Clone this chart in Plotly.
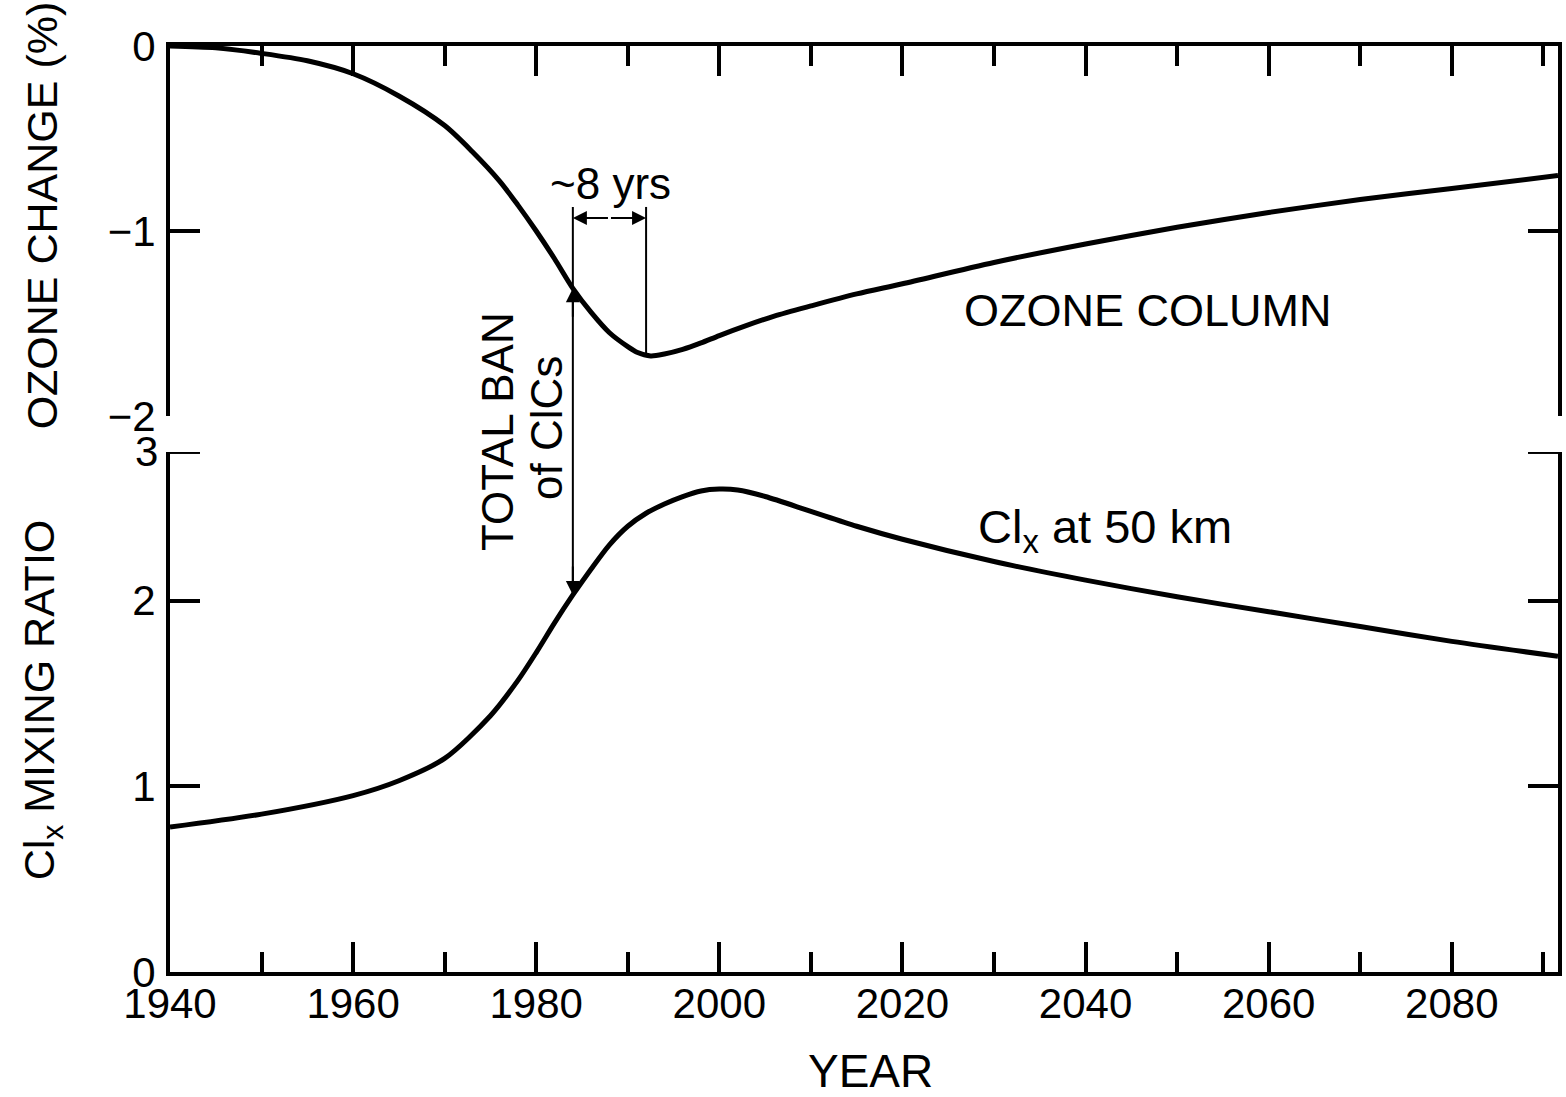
import numpy as np
import plotly.graph_objects as go

# ---- data -------------------------------------------------------------
ozone_years = [1940, 1945, 1950, 1955, 1960, 1965, 1970, 1973, 1976, 1978,
               1980, 1982, 1984, 1986, 1988, 1990, 1991, 1992.5, 1994, 1996,
               1998, 2000, 2003, 2006, 2010, 2015, 2020, 2030, 2040, 2050,
               2060, 2070, 2080, 2091.6]
ozone_change = [0.00, -0.01, -0.04, -0.08, -0.15, -0.27, -0.43, -0.57, -0.73, -0.86,
                -1.00, -1.15, -1.31, -1.44, -1.55, -1.625, -1.655, -1.675, -1.665, -1.64,
                -1.605, -1.565, -1.51, -1.46, -1.405, -1.34, -1.285, -1.17, -1.07, -0.98,
                -0.90, -0.83, -0.77, -0.70]

clx_years = [1940, 1950, 1960, 1965, 1970, 1975, 1978, 1980, 1982, 1984,
             1986, 1988, 1990, 1992, 1994, 1996, 1998, 2000, 2002, 2005,
             2010, 2015, 2020, 2030, 2040, 2050, 2060, 2070, 2080, 2091.6]
clx_ratio = [0.78, 0.85, 0.95, 1.03, 1.15, 1.38, 1.57, 1.72, 1.88, 2.03,
             2.17, 2.30, 2.40, 2.47, 2.52, 2.56, 2.59, 2.60, 2.595, 2.56,
             2.48, 2.40, 2.33, 2.21, 2.11, 2.02, 1.94, 1.86, 1.78, 1.70]

ban_year = 1984          # total ban of ClCs
ozone_min_year = 1992    # ozone minimum, ~8 years later

x_range = [1940, 2091.6]
oz_range = [-2, 0]
clx_range = [0, 2.8]
oz_domain = [0.6004, 1.0]
clx_domain = [0.0, 0.5616]

FONT = "Liberation Sans"
INK = "black"

# plot-area geometry in pixels (used to place free text)
PLOT_L, PLOT_W = 170, 1392
PLOT_B, PLOT_H = 972, 926


def to_paper(v, rng, dom):
    return dom[0] + (v - rng[0]) / (rng[1] - rng[0]) * (dom[1] - dom[0])


def px_x(px):
    return (px - PLOT_L) / PLOT_W


def px_y(py):
    return (PLOT_B - py) / PLOT_H


fig = go.Figure()

fig.add_trace(go.Scatter(x=clx_years, y=clx_ratio, mode="lines",
                         line=dict(color=INK, width=5, shape="spline", smoothing=0.8),
                         xaxis="x", yaxis="y", showlegend=False))
fig.add_trace(go.Scatter(x=ozone_years, y=ozone_change, mode="lines",
                         line=dict(color=INK, width=5, shape="spline", smoothing=0.8),
                         xaxis="x2", yaxis="y2", showlegend=False))

axis_common = dict(showgrid=False, zeroline=False, showline=True, linecolor=INK,
                   linewidth=4, ticks="inside", tickcolor=INK, tickwidth=4)

fig.update_layout(
    width=1566, height=1097,
    margin=dict(l=170, r=4, t=46, b=125),
    paper_bgcolor="white", plot_bgcolor="white",
    font=dict(family=FONT, color=INK, size=42),
    xaxis=dict(**axis_common, range=x_range, anchor="y", domain=[0, 1],
               tick0=1940, dtick=20, ticklen=30,
               minor=dict(dtick=10, tick0=1940, ticklen=20, tickwidth=4,
                          tickcolor=INK, ticks="inside", showgrid=False),
               tickfont=dict(size=42), ticklabelstandoff=-8),
    xaxis2=dict(**axis_common, range=x_range, anchor="y2", side="top",
                showticklabels=False, tick0=1940, dtick=20, ticklen=30,
                minor=dict(dtick=10, tick0=1940, ticklen=20, tickwidth=4,
                           tickcolor=INK, ticks="inside", showgrid=False)),
    yaxis=dict(**axis_common, range=clx_range, domain=clx_domain, anchor="x",
               mirror="ticks", tickvals=[0, 1, 2], ticklen=30,
               tickfont=dict(size=42), ticklabelstandoff=2),
    yaxis2=dict(**axis_common, range=oz_range, domain=oz_domain, anchor="x2",
                mirror="ticks", tickvals=[0, -1, -2], ticklen=30,
                tickfont=dict(size=42), ticklabelstandoff=2),
)

shapes = []
annotations = []

# short corner stubs at the top of the lower frame
top_clx = clx_range[1]
shapes.append(dict(type="line", xref="paper", yref="y", x0=0, x1=0.0216,
                   y0=top_clx, y1=top_clx, line=dict(color=INK, width=4)))
shapes.append(dict(type="line", xref="paper", yref="y", x0=0.9784, x1=1,
                   y0=top_clx, y1=top_clx, line=dict(color=INK, width=4)))
annotations.append(dict(text="3", xref="paper", yref="y", x=0, y=top_clx,
                        xanchor="right", yanchor="middle", xshift=-10,
                        showarrow=False, font=dict(size=42)))

# ban marker and ~8 yr lag bracket
bracket_top = -0.87
bracket_y = -0.93
oz_at_ban = float(np.interp(ban_year, ozone_years, ozone_change))
oz_at_min = float(np.interp(ozone_min_year, ozone_years, ozone_change))
clx_at_ban = float(np.interp(ban_year, clx_years, clx_ratio))

shapes.append(dict(type="line", xref="x", yref="paper", x0=ban_year, x1=ban_year,
                   y0=to_paper(bracket_top, oz_range, oz_domain),
                   y1=to_paper(clx_at_ban, clx_range, clx_domain),
                   line=dict(color=INK, width=2)))
shapes.append(dict(type="line", xref="x2", yref="y2", x0=ozone_min_year, x1=ozone_min_year,
                   y0=bracket_top, y1=oz_at_min, line=dict(color=INK, width=2)))

mid = (ban_year + ozone_min_year) / 2
for head in (ban_year, ozone_min_year):
    annotations.append(dict(text="", xref="x2", yref="y2", x=head, y=bracket_y,
                            axref="x2", ayref="y2", ax=mid, ay=bracket_y,
                            showarrow=True, arrowhead=2, arrowsize=1.4,
                            arrowwidth=2, arrowcolor=INK))

annotations.append(dict(text="", xref="x2", yref="y2", x=ban_year, y=oz_at_ban,
                        ax=0, ay=30, showarrow=True, arrowhead=2, arrowsize=1.4,
                        arrowwidth=2, arrowcolor=INK))
annotations.append(dict(text="", xref="x", yref="y", x=ban_year, y=clx_at_ban,
                        ax=0, ay=-30, showarrow=True, arrowhead=2, arrowsize=1.4,
                        arrowwidth=2, arrowcolor=INK))


def label(text, cx, cy, size, angle=0):
    return dict(text=text, xref="paper", yref="paper", x=px_x(cx), y=px_y(cy),
                xanchor="center", yanchor="middle", textangle=angle,
                showarrow=False, font=dict(size=size))


annotations += [
    label("~8 yrs", 612, 183, 44),
    label("TOTAL BAN", 498, 432, 44, -90),
    label("of ClCs", 547, 428, 44, -90),
    label("OZONE COLUMN", 1151, 311, 45),
    label("Cl<sub>x</sub> at 50 km", 1108, 530, 47),
    label("YEAR", 873, 1071, 46),
    label("OZONE CHANGE (%)", 42, 215, 43, -90),
    label("Cl<sub>x</sub> MIXING RATIO", 42, 700, 43, -90),
]

fig.update_layout(shapes=shapes, annotations=annotations)

fig.write_html("out.html")
